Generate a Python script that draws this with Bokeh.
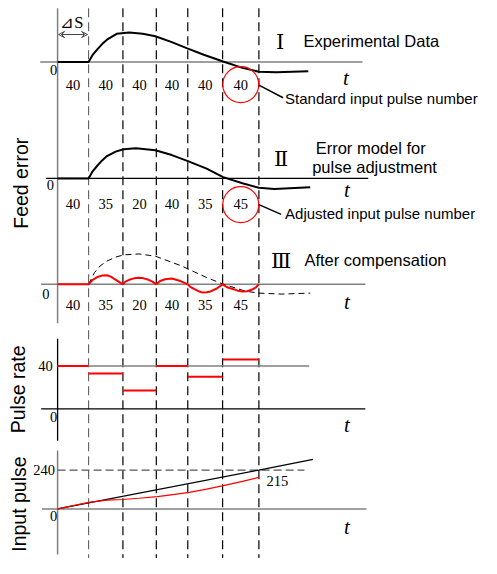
import math
from bokeh.plotting import figure
from bokeh.models import Range1d, Arrow, VeeHead
from bokeh.core.properties import value
from bokeh.embed import file_html
from bokeh.resources import INLINE

# ---------------- data ----------------
# time boundaries of the six pulse intervals (time units, origin at 0)
t_bounds = [0, 32, 67.5, 102, 134.5, 170.5, 208]
standard_pulses = [40, 40, 40, 40, 40, 40]
adjusted_pulses = [40, 35, 20, 40, 35, 45]
# drawn pulse-rate levels
rate_levels = [40, 33, 17, 40, 30, 46]
rate_ref = 40

# I  experimental feed error
exp_t = [0, 32, 36, 41, 46, 51, 61, 74, 88, 101, 118, 134, 151, 171, 191, 208, 226, 259]
exp_err = [0, 0, 7, 13, 18.5, 23, 29, 30.5, 29, 26.5, 20.5, 14, 7.5, 0.5, -6, -10, -10.5, -9.5]
# II error model
model_t = [0, 32, 36, 41, 46, 51, 60, 68, 81, 101, 118, 134, 154, 171, 191, 208, 224, 261]
model_err = [0, 0, 7, 13, 18.5, 23, 27.5, 30, 31, 29, 24, 18, 10, 1.3, -5, -9.7, -11, -9]
# III model (dashed) and compensated error (red)
model3_t = [32, 38, 44, 51, 60, 68, 84, 101, 128, 154, 171, 194, 208, 231, 261]
model3_err = [0, 12, 19, 24, 28, 30.3, 31.3, 29, 19, 7, 0.3, -7, -9, -10, -9]
comp_t = [0, 32, 36, 41, 46, 51, 55, 59, 63, 67.5, 70, 74, 79, 84, 89, 94, 98, 102,
          106, 111, 118, 126, 130, 134.5, 137, 141, 145, 149, 154, 158, 164, 170.5,
          175, 181, 186, 191, 196, 201, 205, 208]
comp_err = [0, 0, 4.5, 7.5, 9, 9.3, 8, 5.3, 2.8, 0, 2.8, 4.7, 6.2, 6.7, 6.2, 4.7, 2.8, 0,
            3.5, 5.3, 6, 3.7, 2, 0, -2.5, -4.7, -6.8, -8.3, -8.2, -7.3, -4.5, 0,
            -3, -4.7, -6.5, -7.3, -7, -5.3, -3, 0]
# input pulse (cumulative)
std_in_t = [0, 208, 264]
std_in = [0, 240, 306]
adj_in_t = [0, 32, 51, 67, 84, 103, 121, 136, 154, 170, 191, 208]
adj_in = [0, 40, 54, 58, 66, 76, 90, 102, 122, 142, 170, 195]
in_ref = 240
in_end_label = "215"

# ---------------- figure ----------------
W, H = 481, 558
p = figure(width=W, height=H, output_backend="svg", toolbar_location=None,
           x_range=Range1d(-59, 438), y_range=Range1d(574, 0),
           x_axis_type=None, y_axis_type=None, min_border=0)
p.outline_line_color = None
p.background_fill_color = "white"

def add_panel(name, base, k):
    p.extra_y_ranges[name] = Range1d(start=(base - 574) / k, end=base / k)

add_panel("e1", 63.3, 1.0)
add_panel("e2", 183.0, 1.0)
add_panel("e3", 292.0, 1.0)
add_panel("rate", 420.0, 1.1)
add_panel("inp", 523.0, 1.0 / 6.0)

GRAY = "#808080"
SERIF = value("Liberation Serif")
SANS = value("Liberation Sans")

# vertical dashed time lines
for i, tb in enumerate(t_bounds[1:]):
    p.line([tb, tb], [8, 574], line_color="#666666" if i == 0 else "black",
           line_width=1.2, line_dash="9 5")

# axes (drawn as lines)
p.line([0, 0], [8, 332], line_color=GRAY, line_width=1.5)
p.line([0, 0], [348, 453], line_color="black", line_width=1.3)
p.line([0, 0], [463, 570], line_color=GRAY, line_width=1.5)
p.line([-18, 315], [0, 0], y_range_name="e1", line_color=GRAY, line_width=1.5)
p.line([-12, 321], [0, 0], y_range_name="e2", line_color="black", line_width=1.3)
p.line([-17, 318], [0, 0], y_range_name="e3", line_color=GRAY, line_width=1.5)
p.line([-17, 318], [0, 0], y_range_name="rate", line_color="black", line_width=1.3)
p.line([0, 260], [rate_ref, rate_ref], y_range_name="rate", line_color=GRAY, line_width=1.5)
p.line([-16, 319], [0, 0], y_range_name="inp", line_color=GRAY, line_width=1.5)
p.line([0, 255], [in_ref, in_ref], y_range_name="inp", line_color="#555555",
       line_width=1.2, line_dash="8 4")

# curves
p.line(exp_t, exp_err, y_range_name="e1", line_color="black", line_width=2)
p.line(model_t, model_err, y_range_name="e2", line_color="black", line_width=2)
p.line(model3_t, model3_err, y_range_name="e3", line_color="black", line_width=1, line_dash="6 4")
p.line(comp_t, comp_err, y_range_name="e3", line_color="red", line_width=2)

# pulse rate steps
for i, r in enumerate(rate_levels):
    p.line([t_bounds[i], t_bounds[i + 1]], [r, r], y_range_name="rate",
           line_color="red", line_width=2)

# input pulse
p.line(std_in_t, std_in, y_range_name="inp", line_color="black", line_width=1.2)
p.line(adj_in_t, adj_in, y_range_name="inp", line_color="red", line_width=1.2)

NUM = value("14.5px")
# interval labels
centers = [(t_bounds[i] + t_bounds[i + 1]) / 2 for i in range(6)]
for row_y, labels in [(86.5, standard_pulses), (209.5, adjusted_pulses), (313, adjusted_pulses)]:
    p.text(x=centers, y=[row_y] * 6, text=[str(v) for v in labels],
           text_font=SERIF, text_font_size=NUM,
           text_align="center", text_baseline="middle")

# red circles
p.scatter(x=[centers[5], centers[5]], y=[86.5, 210], size=36, marker="circle",
          fill_color=None, line_color="red", line_width=1.2)

# leader lines
p.line([208, 233], [87, 100], line_color="black", line_width=1.5)
p.line([208, 231], [210, 220], line_color="black", line_width=1.5)

# origin / tick labels
p.text(x=[-4, -7.5, -12, -4, -4], y=[72, 190, 301.5, 428, 530], text=["0"] * 5,
       text_font=SERIF, text_font_size=NUM,
       text_align="center", text_baseline="middle")
p.text(x=[-12.5], y=[376], text=[str(rate_ref)], text_font=SERIF,
       text_font_size=NUM, text_align="center", text_baseline="middle")
p.text(x=[-14], y=[483], text=[str(in_ref)], text_font=SERIF,
       text_font_size=NUM, text_align="center", text_baseline="middle")
p.text(x=[227], y=[494], text=[in_end_label], text_font=SERIF,
       text_font_size=NUM, text_align="center", text_baseline="middle")

# t labels
p.text(x=[298, 299, 299, 299, 299], y=[80, 195, 310, 437, 542], text=["t"] * 5,
       text_font=SERIF, text_font_size=value("21px"), text_font_style="italic",
       text_align="center", text_baseline="middle")

# roman numerals
p.text(x=[230, 231, 231], y=[43, 163, 268], text=["\u2160", "\u2161", "\u2162"],
       text_font=value("DejaVu Serif"), text_font_size=value("21px"),
       text_align="center", text_baseline="middle")

# titles
TTL = value("16.5px")
p.text(x=[254], y=[41.5], text=["Experimental Data"], text_font=SANS,
       text_font_size=TTL, text_align="left", text_baseline="middle")
p.text(x=[323.5, 327.5], y=[151.5, 171.5], text=["Error model for", "pulse adjustment"],
       text_font=SANS, text_font_size=TTL, text_align="center",
       text_baseline="middle")
p.text(x=[255], y=[267], text=["After compensation"], text_font=SANS,
       text_font_size=TTL, text_align="left", text_baseline="middle")
p.text(x=[235, 235], y=[101, 219],
       text=["Standard input pulse number", "Adjusted input pulse number"],
       text_font=SANS, text_font_size=value("15px"), text_align="left",
       text_baseline="middle")

# rotated axis titles
p.text(x=[-38, -41, -40], y=[188, 400, 518], text=["Feed error", "Pulse rate", "Input pulse"],
       text_font=SANS, text_font_size=value("19.5px"), angle=math.pi / 2,
       text_align="center", text_baseline="middle")

# delta S
p.text(x=[9.5], y=[23], text=["\u22bf"], text_font=value("DejaVu Sans"),
       text_font_size=value("16.5px"), text_align="center", text_baseline="middle")
p.text(x=[22], y=[23], text=["S"], text_font=SERIF,
       text_font_size=value("16.5px"), text_align="center", text_baseline="middle")
p.add_layout(Arrow(x_start=t_bounds[0] + 1, y_start=35, x_end=t_bounds[1] - 1, y_end=35,
                   line_color="#444444", line_width=1,
                   start=VeeHead(size=6, line_color="#444444", line_width=1, fill_color=None),
                   end=VeeHead(size=6, line_color="#444444", line_width=1, fill_color=None)))

open("out.html", "w").write(file_html(p, INLINE))
